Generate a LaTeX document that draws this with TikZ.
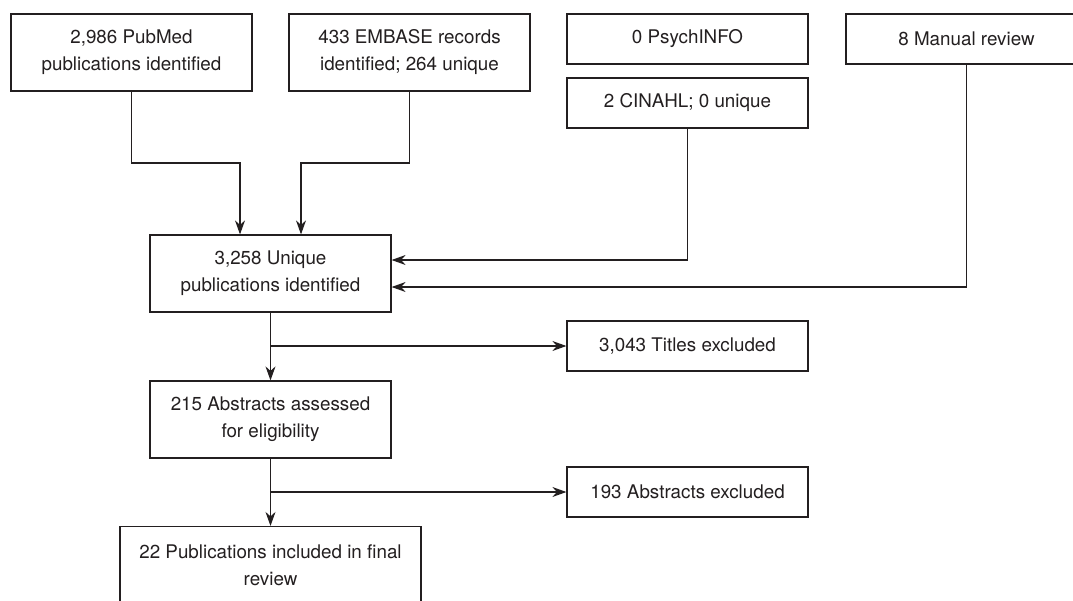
\documentclass[tikz,border=0pt]{standalone}
\usepackage{fontspec}
\setmainfont{TeX Gyre Heros}
\usetikzlibrary{arrows.meta}
\definecolor{ink}{HTML}{231F20}
\begin{document}
\begin{tikzpicture}[x=1pt,y=-1pt,
  box/.style={draw=ink, line width=1.2pt, text=ink, align=center, inner sep=0pt,
    minimum width=241pt, font=\fontsize{18.8}{27}\selectfont},
  tall/.style={box, minimum height=77pt},
  short/.style={box, minimum height=50pt},
  arr/.style={draw=ink, line width=1.1pt, -{Stealth[length=14pt,width=10pt,inset=4.5pt]}}]
\clip (0,0) rectangle (1073,600);
\fill[white] (0,0) rectangle (1073,600);
\node[tall]  (pub) at (131.5,52.5) {2,986 PubMed\\publications identified};
\node[tall]  (emb) at (409.5,52.5) {433 EMBASE records\\identified; 264 unique};
\node[short] (psy) at (687.5,39) {0 PsychINFO};
\node[short] (cin) at (687.5,103) {2 CINAHL; 0 unique};
\node[short] (man) at (966.5,39) {8 Manual review};
\node[tall]  (uni) at (270.5,273.5) {3,258 Unique\\publications identified};
\node[short] (tit) at (687.5,346) {3,043 Titles excluded};
\node[tall]  (abs) at (270.5,419.5) {215 Abstracts assessed\\for eligibility};
\node[short] (axc) at (687.5,492) {193 Abstracts excluded};
\node[tall, minimum width=301pt] (fin) at (270.5,565) {22 Publications included in final\\review};
\coordinate (pe) at (240,163);
\coordinate (ee) at (301,163);
\draw[arr] (pub.south) |- (pe) -- (pe |- uni.north);
\draw[arr] (emb.south) |- (ee) -- (ee |- uni.north);
\draw[arr] (cin.south) |- ([yshift=13.5pt]uni.east);
\draw[arr] (man.south) |- ([yshift=-13.5pt]uni.east);
\draw[arr] (uni.south) -- (abs.north);
\coordinate (b1) at (uni.south |- tit.west);
\draw[arr] (b1) -- (tit.west);
\draw[arr] (abs.south) -- (fin.north);
\coordinate (b2) at (abs.south |- axc.west);
\draw[arr] (b2) -- (axc.west);
\end{tikzpicture}
\end{document}
